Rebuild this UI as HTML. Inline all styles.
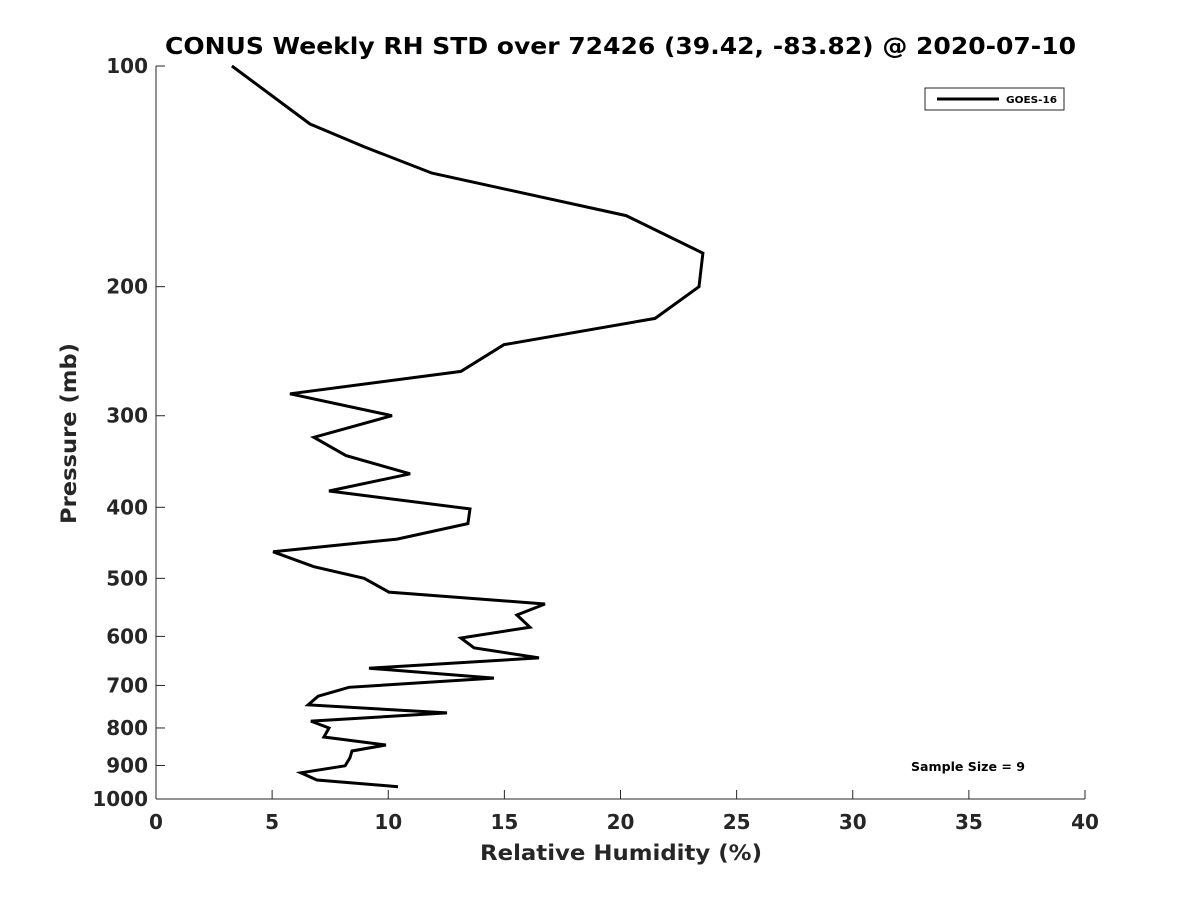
<!DOCTYPE html>
<html><head><meta charset="utf-8"><style>
body{margin:0;background:#fff}
svg{display:block;font-family:"DejaVu Sans","Liberation Sans",sans-serif;font-weight:bold;fill:#262626}
</style></head><body>
<svg id="chart" width="1200" height="900" viewBox="0 0 1200 900" xmlns="http://www.w3.org/2000/svg">
<rect width="1200" height="900" fill="#fff"/>
<text x="165" y="54" font-size="23" fill="#000" textLength="911" lengthAdjust="spacingAndGlyphs">CONUS Weekly RH STD over 72426 (39.42, -83.82) @ 2020-07-10</text>
<g id="axes"></g>
<text x="480" y="860" font-size="21" textLength="282" lengthAdjust="spacingAndGlyphs">Relative Humidity (%)</text>
<text transform="translate(76,524) rotate(-90)" font-size="21" textLength="181" lengthAdjust="spacingAndGlyphs">Pressure (mb)</text>
<g>
<rect x="925" y="88" width="139" height="22" fill="#fff" stroke="#262626" stroke-width="1"/>
<line x1="937" y1="99" x2="999" y2="99" stroke="#000" stroke-width="3"/>
<text x="1006" y="103" font-size="10" fill="#000" textLength="51" lengthAdjust="spacingAndGlyphs">GOES-16</text>
</g>
<text x="911" y="771" font-size="12" fill="#000" textLength="114" lengthAdjust="spacingAndGlyphs">Sample Size = 9</text>
</svg>
<script>
const xTicks=[0,5,10,15,20,25,30,35,40];
const yTicks=[100,200,300,400,500,600,700,800,900,1000];
const rhValues=[3.27,6.63,9.0,11.88,20.24,23.55,23.38,21.49,14.98,13.13,5.77,10.16,6.8,8.18,10.94,7.45,13.52,13.43,10.38,5.04,6.8,8.96,10.03,16.75,15.54,16.1,13.13,13.69,16.49,9.17,14.55,8.31,6.98,6.55,12.53,6.67,7.45,7.23,9.9,8.44,8.35,8.14,6.24,6.93,10.42];
const pressures=[100,120,129,140,160,180,200,221,240,261,280,300,321,340,360,380,402,421,442,460,482,500,522,542,561,583,603,622,642,663,684,704,724,744,763,783,800,823,844,860,879,901,921,942,962];
const X0=156,X1=1085,Y0=66,Y1=799;
const xs=v=>X0+(v-0)/(40-0)*(X1-X0);
const ys=p=>Y0+Math.log10(p/100)*(Y1-Y0);
const NS="http://www.w3.org/2000/svg";
const ax=document.getElementById('axes');
function mk(t,a,p){const e=document.createElementNS(NS,t);for(const k in a)e.setAttribute(k,a[k]);(p||ax).appendChild(e);return e;}
const yl=mk('line',{x1:X0,y1:Y0,x2:X0,y2:Y1,stroke:'#262626','stroke-width':1});


const xl=mk('line',{x1:X0,y1:Y1,x2:X1,y2:Y1,stroke:'#262626','stroke-width':1});


xTicks.forEach(v=>{const x=xs(v);
mk('line',{x1:x,y1:Y1,x2:x,y2:Y1-9,stroke:'#262626'});
const t=mk('text',{x:x,y:Y1+30,'text-anchor':'middle','font-size':20});t.textContent=v;

});
yTicks.forEach(p=>{const y=ys(p);
mk('line',{x1:X0,y1:y,x2:X0+9,y2:y,stroke:'#262626'});
const t=mk('text',{x:X0-8,y:y+7,'text-anchor':'end','font-size':20});t.textContent=p;

});
const pts=rhValues.map((v,i)=>xs(v).toFixed(1)+','+ys(pressures[i]).toFixed(1)).join(' ');
const pl=mk('polyline',{points:pts,fill:'none',stroke:'#000','stroke-width':3,'stroke-linejoin':'miter'});


</script>
</body></html>
